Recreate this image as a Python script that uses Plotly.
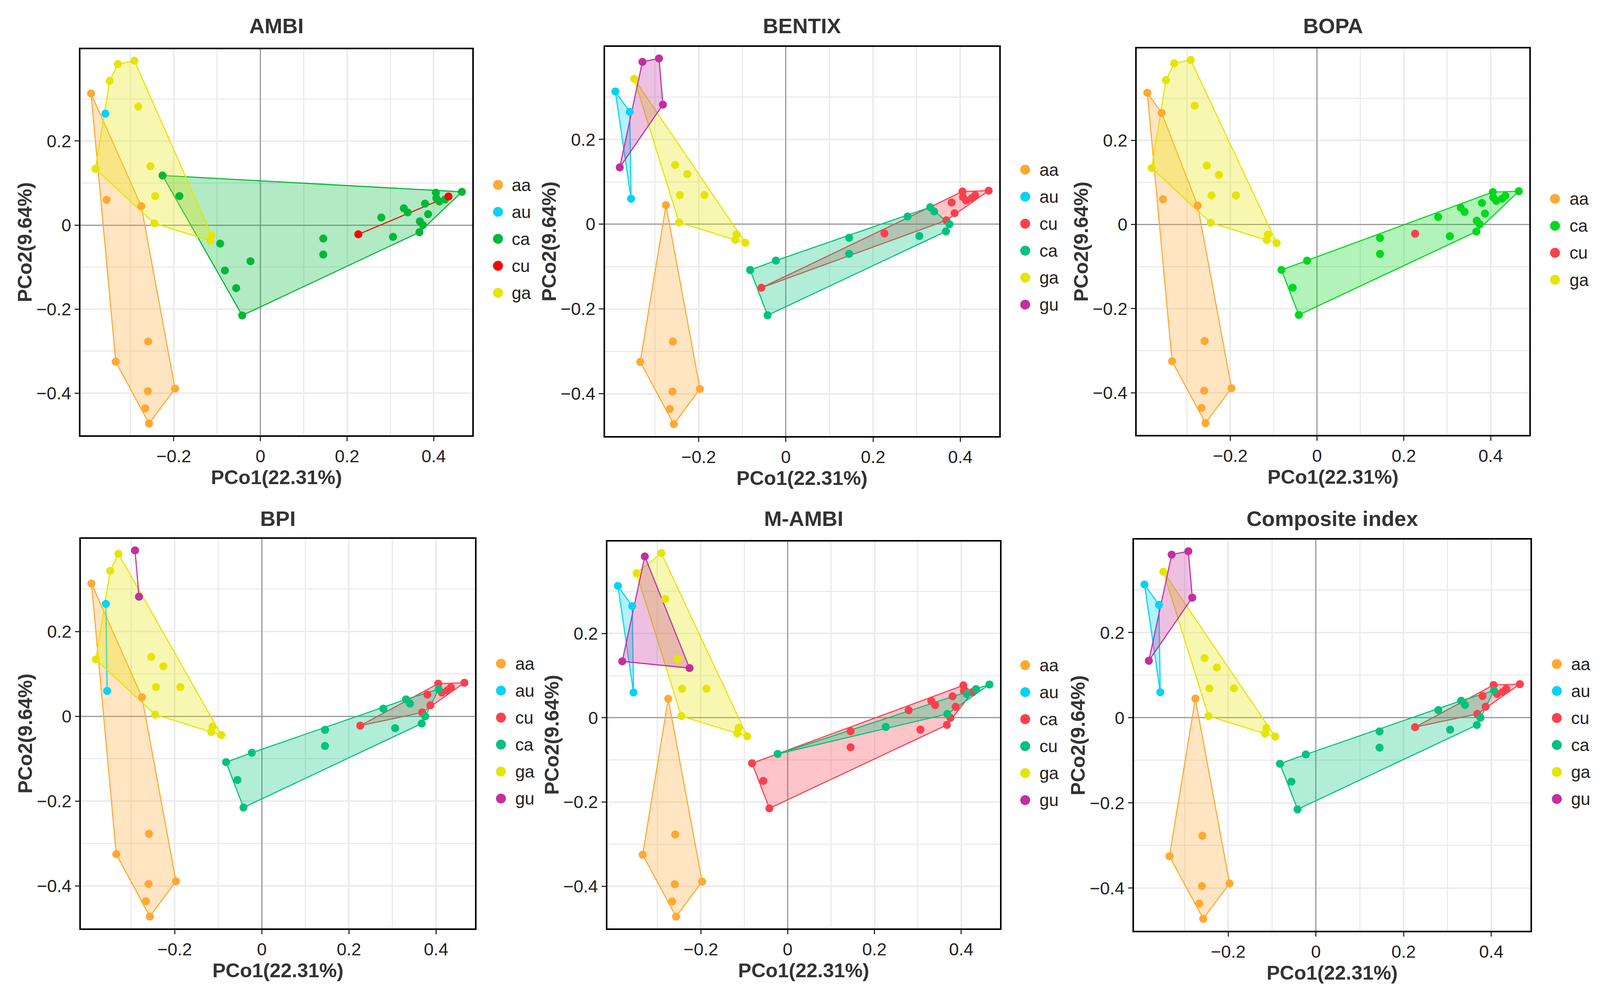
import plotly.graph_objects as go

# ---------------- data (PCoA coordinates, one entry per sample) ----------------
pco1 = [-0.391, -0.358, -0.355, -0.275, -0.259, -0.334, -0.260, -0.197, -0.266, -0.257,
        -0.291, -0.329, -0.348, -0.282, -0.381, -0.254, -0.226, -0.243, -0.187, -0.245,
        -0.113, -0.116, -0.093, -0.082, -0.023, -0.056, -0.042, 0.145, 0.145, 0.226,
        0.279, 0.306, 0.331, 0.340, 0.368, 0.375, 0.367, 0.380, 0.387, 0.405,
        0.406, 0.413, 0.426, 0.434, 0.465]
pco2 = [0.313, 0.265, 0.060, 0.045, -0.277, -0.325, -0.395, -0.389, -0.436, -0.472,
        0.391, 0.383, 0.343, 0.282, 0.134, 0.140, 0.118, 0.069, 0.069, 0.004,
        -0.024, -0.037, -0.044, -0.108, -0.086, -0.150, -0.215, -0.032, -0.070, -0.022,
        0.018, -0.028, 0.040, 0.030, 0.009, 0.000, -0.017, 0.051, 0.026, 0.077,
        0.064, 0.056, 0.061, 0.068, 0.079]

# group of each sample under each index
groups_ambi = ("aa au aa aa aa aa aa aa aa aa "
               "ga ga ga ga ga ga ca ga ca ga "
               "ga ga ca ca ca ca ca ca ca cu "
               "ca ca ca ca ca ca ca ca ca ca ca ca ca cu ca").split()
groups_bentix = ("au au au aa aa aa aa aa aa aa "
                 "gu gu ga gu gu ga ga ga ga ga "
                 "ga ga ga ca ca cu ca ca ca cu "
                 "ca ca ca ca cu ca ca cu cu cu cu cu cu cu cu").split()
groups_bopa = ("aa aa aa aa aa aa aa aa aa aa "
               "ga ga ga ga ga ga ga ga ga ga "
               "ga ga ga ca ca ca ca ca ca cu "
               "ca ca ca ca ca ca ca ca ca ca ca ca ca ca ca").split()
groups_bpi = ("aa au au aa aa aa aa aa aa aa "
              "gu ga ga gu ga ga ga ga ga ga "
              "ga ga ga ca ca ca ca ca ca cu "
              "ca ca ca ca cu ca ca cu cu cu ca cu cu cu cu").split()
groups_mambi = ("au au au aa aa aa aa aa aa aa "
                "ga gu ga ga gu ga gu ga ga ga "
                "ga ga ga ca cu ca ca ca ca cu "
                "ca ca ca ca cu ca ca ca ca ca ca cu ca cu cu").split()
groups_composite = ("au au au aa aa aa aa aa aa aa "
                    "gu gu ga gu gu ga ga ga ga ga "
                    "ga ga ga ca ca ca ca ca ca cu "
                    "ca ca ca ca cu ca ca cu cu cu ca cu cu cu cu").split()

titles = ["AMBI", "BENTIX", "BOPA", "BPI", "M-AMBI", "Composite index"]
levels_ambi = ["aa", "au", "ca", "cu", "ga"]
levels_bentix = ["aa", "au", "cu", "ca", "ga", "gu"]
levels_bopa = ["aa", "ca", "cu", "ga"]
levels_bpi = ["aa", "au", "cu", "ca", "ga", "gu"]
levels_mambi = ["aa", "au", "ca", "cu", "ga", "gu"]
levels_composite = ["aa", "au", "cu", "ca", "ga", "gu"]

x_title = "PCo1(22.31%)"
y_title = "PCo2(9.64%)"
x_tickvals = [-0.2, 0, 0.2, 0.4]
x_ticktext = ["\u22120.2", "0", "0.2", "0.4"]
y_tickvals = [-0.4, -0.2, 0, 0.2]
y_ticktext = ["\u22120.4", "\u22120.2", "0", "0.2"]
minor_vals = [-0.3, -0.1, 0.1, 0.3]

# ---------------- styles ----------------
ORANGE, CYAN, YELLOW, MAGENTA = "#FFA833", "#00D4F5", "#E5E500", "#C22FA0"
RED, TEAL = "#FA404E", "#00C27C"
colors_ambi = [ORANGE, CYAN, "#00B838", "#FF0000", YELLOW]
colors_bentix = [ORANGE, CYAN, RED, TEAL, YELLOW, MAGENTA]
colors_bopa = [ORANGE, "#00D81C", RED, YELLOW]
colors_bpi = [ORANGE, CYAN, RED, TEAL, YELLOW, MAGENTA]
colors_mambi = [ORANGE, CYAN, RED, TEAL, YELLOW, MAGENTA]
colors_composite = [ORANGE, CYAN, RED, TEAL, YELLOW, MAGENTA]

W, H = 4338, 2549          # reference canvas, used for fractional positions
S = 0.94                   # CSS-px scale of the browser viewport vs reference pixels
FONT = "Liberation Sans, Arial, sans-serif"
LEG_STEP = 69.5

# plot-area boxes in reference pixels (left, right, top, bottom),
# legend (key centre x, label left x, first item centre y)
panels = [
    (titles[0], groups_ambi, levels_ambi, colors_ambi, (211, 1277, 119, 1113), (1347, 1382, 468)),
    (titles[1], groups_bentix, levels_bentix, colors_bentix, (1638, 2711, 113, 1115), (2782, 2819, 429)),
    (titles[2], groups_bopa, levels_bopa, colors_bopa, (3086, 4154, 117, 1112), (4224, 4261, 504)),
    (titles[3], groups_bpi, levels_bpi, colors_bpi, (212, 1284, 1380, 2383), (1355, 1392, 1701)),
    (titles[4], groups_mambi, levels_mambi, colors_mambi, (1645, 2713, 1387, 2383), (2782, 2819, 1705)),
    (titles[5], groups_composite, levels_composite, colors_composite, (3078, 4157, 1382, 2389), (4229, 4266, 1702)),
]


def convex_hull(points):
    pts = sorted(set(points))
    if len(pts) <= 2:
        return pts

    def cross(o, a, b):
        return (a[0] - o[0]) * (b[1] - o[1]) - (a[1] - o[1]) * (b[0] - o[0])

    lower = []
    for p in pts:
        while len(lower) >= 2 and cross(lower[-2], lower[-1], p) <= 0:
            lower.pop()
        lower.append(p)
    upper = []
    for p in reversed(pts):
        while len(upper) >= 2 and cross(upper[-2], upper[-1], p) <= 0:
            upper.pop()
        upper.append(p)
    return lower[:-1] + upper[:-1]


def rgba(hexcol, a):
    h = hexcol.lstrip("#")
    return "rgba(%d,%d,%d,%.2f)" % (int(h[0:2], 16), int(h[2:4], 16), int(h[4:6], 16), a)


fig = go.Figure()
layout = dict(
    template="none", autosize=True,
    margin=dict(l=0, r=0, t=0, b=0, pad=0),
    paper_bgcolor="white", plot_bgcolor="white",
    font=dict(family=FONT, size=47 * S, color="#222222"),
    showlegend=False,
    annotations=[], shapes=[],
)

for k, (title, grp, levels, cols, box, leg) in enumerate(panels):
    n = k + 1
    xa = "x" if n == 1 else "x%d" % n
    ya = "y" if n == 1 else "y%d" % n
    left, right, top, bottom = box

    # hulls first (in legend order), then points
    for lev, col in zip(levels, cols):
        idx = [i for i, g in enumerate(grp) if g == lev]
        hull = convex_hull([(pco1[i], pco2[i]) for i in idx])
        if len(hull) >= 2:
            hx = [p[0] for p in hull] + [hull[0][0]]
            hy = [p[1] for p in hull] + [hull[0][1]]
            fig.add_trace(go.Scatter(
                x=hx, y=hy, mode="lines", xaxis=xa, yaxis=ya,
                line=dict(color=col, width=3 * S),
                fill="toself" if len(hull) >= 3 else None,
                fillcolor=rgba(col, 0.3),
                hoverinfo="skip", name=lev,
            ))
    for lev, col in zip(levels, cols):
        idx = [i for i, g in enumerate(grp) if g == lev]
        fig.add_trace(go.Scatter(
            x=[pco1[i] for i in idx], y=[pco2[i] for i in idx],
            mode="markers", name=lev, xaxis=xa, yaxis=ya,
            marker=dict(color=col, size=22 * S, line=dict(width=0)),
        ))

    axis_common = dict(
        showline=True, linecolor="black", linewidth=4 * S, mirror=True,
        ticks="outside", ticklen=12 * S, tickwidth=3 * S, tickcolor="#333333",
        tickfont=dict(family=FONT, size=48 * S, color="#222222"),
        showgrid=True, gridcolor="#EBEBEB", gridwidth=4 * S,
        zeroline=True, zerolinecolor="#9A9A9A", zerolinewidth=3 * S,
        minor=dict(tickvals=minor_vals, showgrid=True, gridcolor="#EBEBEB",
                   gridwidth=3 * S, ticks=""),
        automargin=False,
    )
    layout["xaxis" if n == 1 else "xaxis%d" % n] = dict(
        axis_common,
        domain=[left / W, right / W], anchor=ya,
        range=[-0.415, 0.489],
        tickmode="array", tickvals=x_tickvals, ticktext=x_ticktext,
        title=dict(text="<b>%s</b>" % x_title, standoff=7 * S,
                   font=dict(family=FONT, size=54 * S, color="#333333")),
    )
    layout["yaxis" if n == 1 else "yaxis%d" % n] = dict(
        axis_common,
        domain=[1 - bottom / H, 1 - top / H], anchor=xa,
        range=[-0.500, 0.418],
        tickmode="array", tickvals=y_tickvals, ticktext=y_ticktext,
    )

    # panel title
    title_y = 59 if top < 1000 else 1328
    layout["annotations"].append(dict(
        text="<b>%s</b>" % title, x=(left + right) / 2 / W, y=1 - title_y / H,
        xref="paper", yref="paper", xanchor="center", yanchor="middle",
        showarrow=False, font=dict(family=FONT, size=58 * S, color="#333333"),
    ))
    # y-axis title (rotated)
    layout["annotations"].append(dict(
        text="<b>%s</b>" % y_title, x=(left - 152) / W, y=1 - (top + bottom) / 2 / H,
        xref="paper", yref="paper", xanchor="center", yanchor="middle",
        textangle=-90, showarrow=False,
        font=dict(family=FONT, size=54 * S, color="#333333"),
    ))
    # legend: coloured key circle + label for each group
    key_x, text_x, y0 = leg
    r = 13.5 * S
    for i, (lev, col) in enumerate(zip(levels, cols)):
        yc = 1 - (y0 + i * LEG_STEP) / H
        layout["shapes"].append(dict(
            type="circle", xref="paper", yref="paper",
            xsizemode="pixel", ysizemode="pixel",
            xanchor=key_x / W, yanchor=yc, x0=-r, x1=r, y0=-r, y1=r,
            fillcolor=col, line=dict(width=0), layer="above",
        ))
        layout["annotations"].append(dict(
            text=lev, x=text_x / W, y=yc, xref="paper", yref="paper",
            xanchor="left", yanchor="middle", showarrow=False,
            font=dict(family=FONT, size=47 * S, color="#222222"),
        ))

fig.update_layout(**layout)
fig.write_html("out.html", default_width="calc(100vw - 16px)",
               default_height="calc(100vh - 16px)", config={"responsive": True})
